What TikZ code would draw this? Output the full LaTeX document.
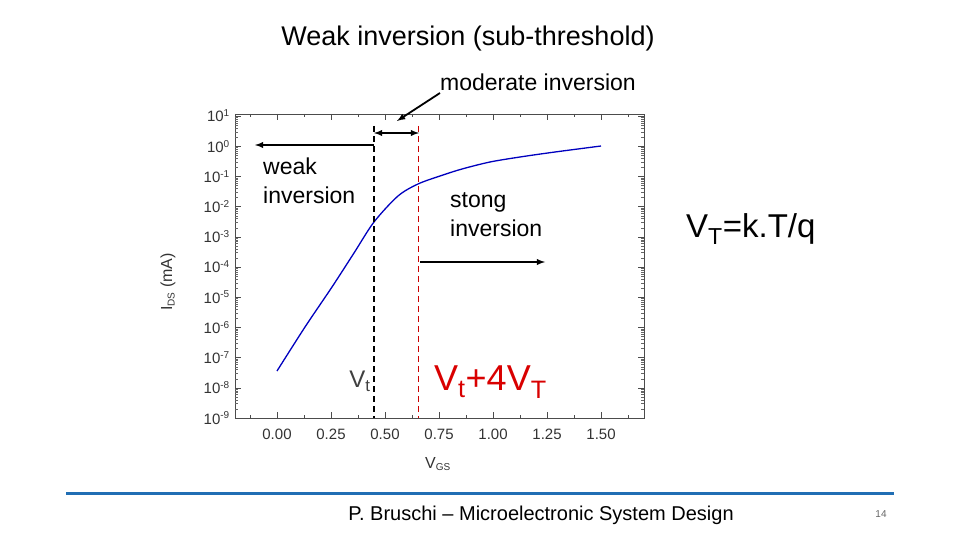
\documentclass[tikz,border=0pt]{standalone}
\usepackage{fontspec}
\setmainfont{Liberation Sans}
\definecolor{footblue}{RGB}{32,110,180}
\begin{document}
\begin{tikzpicture}[x=1pt,y=-1pt,
  lbl/.style={font=\fontsize{23}{28}\selectfont,align=left},
  tick/.style={font=\fontsize{15}{16}\selectfont,text=black!80},
  arr/.style={-latex,line width=1.8pt},
  every node/.style={inner sep=0pt}]
\useasboundingbox (0,0) rectangle (960,540);
\fill[white] (0,0) rectangle (960,540);
% plot frame
\draw[black!70,line width=0.6pt] (235,114) rectangle (644,418);
% y ticks
\foreach \k [evaluate=\k as \yy using 116+30.2*(1-\k)] in {1,0,...,-9}{
  \draw[black!70] (235,\yy) -- (241,\yy) (644,\yy) -- (638,\yy);
  \node[tick,anchor=east] (yt\k) at (230,\yy) {10\textsuperscript{\fontsize{10}{10}\selectfont\k}};
  \ifnum\k>-9
  \foreach \m in {2,...,9}{
    \pgfmathsetmacro{\ym}{\yy+30.2*(1-log10(\m))}
    \draw[black!60,line width=0.3pt] (235,\ym) -- (238,\ym) (644,\ym) -- (641,\ym);
  }\fi
}
% x ticks
\foreach \v/\t in {0/0.00,0.25/0.25,0.5/0.50,0.75/0.75,1/1.00,1.25/1.25,1.5/1.50}{
  \pgfmathsetmacro{\xx}{277+216*\v}
  \draw[black!70] (\xx,418) -- (\xx,412) (\xx,114) -- (\xx,120);
  \node[tick] at (\xx,434) {\t};
}
\foreach \v in {-0.125,0.125,0.375,0.625,0.875,1.125,1.375,1.625}{
  \pgfmathsetmacro{\xx}{277+216*\v}
  \draw[black!70] (\xx,418) -- (\xx,415) (\xx,114) -- (\xx,117);
}
\node[font=\fontsize{16}{18}\selectfont,text=black!80] (vgs) at (438,464) {V\textsubscript{\fontsize{10}{10}\selectfont GS}};
\node[font=\fontsize{16}{18}\selectfont,text=black!80,rotate=90] (ids) at (168,282) {I\textsubscript{\fontsize{10}{10}\selectfont DS} (mA)};
% curve
\draw[blue!75!black,line width=1.3pt] plot[smooth,tension=0.5] coordinates
 {(277,371) (305,327) (332,287) (354,253) (374,222) (398,196) (418,184) (440,176) (462,169) (490,162) (520,157) (555,152) (601,146)};
% dashed lines
\coordinate (vt1) at (374,126); \coordinate (vt2) at (374,418);
\coordinate (vr1) at (418,126); \coordinate (vr2) at (418,418);
\draw[black,line width=1.5pt,dash pattern=on 6pt off 4pt] (vt1) -- (vt2);
\draw[red!80!black,line width=0.9pt,dash pattern=on 6pt off 4pt] (vr1) -- (vr2);
% arrows
\coordinate (a1) at (374,133); \coordinate (a2) at (419,133);
\draw[latex-latex,line width=1.8pt] (a1) -- (a2);
\coordinate (b1) at (374,145); \coordinate (b2) at (255,145);
\draw[arr] (b1) -- (b2);
\coordinate (c1) at (420,262); \coordinate (c2) at (545,262);
\draw[arr] (c1) -- (c2);
\coordinate (m1) at (440,93); \coordinate (m2) at (397,121);
\draw[arr] (m1) -- (m2);
% texts
\node[font=\fontsize{27}{30}\selectfont] (title) at (468,39) {Weak inversion (sub-threshold)};
\node[lbl,anchor=north west] (weak) at (263,158) {weak\\[1pt]inversion};
\node[lbl,anchor=north west] (strong) at (450,192) {stong\\[1pt]inversion};
\node[lbl,anchor=west] (mod) at (440,82) {moderate inversion};
\node[font=\fontsize{33}{36}\selectfont,anchor=west] (vtk) at (686,229) {V\textsubscript{T}=k.T/q};
\node[font=\fontsize{24}{26}\selectfont,text=black!75] (vt) at (360,381) {V\textsubscript{t}};
\node[font=\fontsize{36}{38}\selectfont,text=red!85!black,anchor=west] (vt4) at (434,382) {V\textsubscript{t}+4V\textsubscript{T}};
% footer
\draw[footblue,line width=3pt] (66,493) -- (894,493);
\node[font=\fontsize{20}{22}\selectfont] (foot) at (541,515) {P. Bruschi -- Microelectronic System Design};
\node[font=\fontsize{10}{10}\selectfont,text=black!60] (pg) at (881,514) {14};
\end{tikzpicture}
\end{document}
